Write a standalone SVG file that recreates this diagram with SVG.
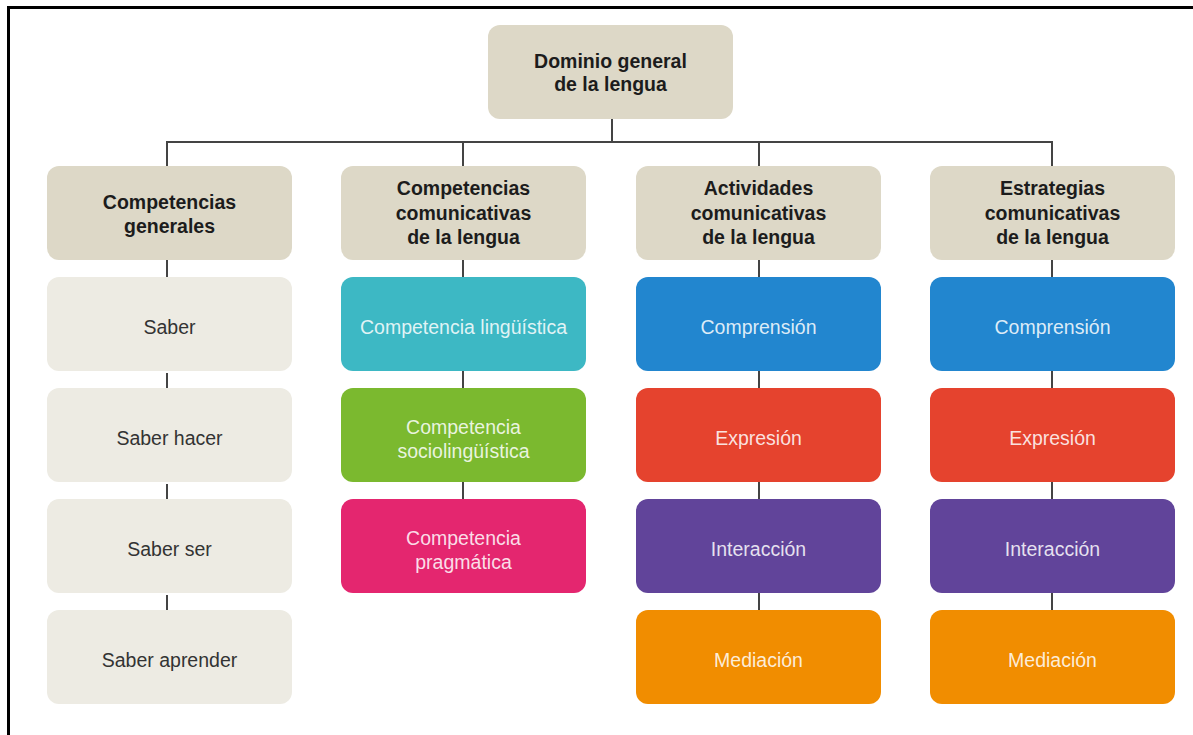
<svg xmlns="http://www.w3.org/2000/svg" width="1193" height="735" viewBox="0 0 1193 735">
<style>
text{font-family:"Liberation Sans",Arial,sans-serif;text-anchor:middle}
.h{font-weight:bold;font-size:19.5px;fill:#1c1c1c}
.l{font-size:19.5px;fill:#333}
.c{font-size:19.5px;fill:#fff;fill-opacity:0.85}
.hb{fill:#ddd8c7}
.lb{fill:#edebe3}
.ln{stroke:#444;stroke-width:2;fill:none}
</style>
<rect width="1193" height="735" fill="#fff"/>
<path d="M7 7.5H1193M8.5 6V735" stroke="#000" stroke-width="3" fill="none"/>
<g id="connectors" class="ln">
<path d="M612 119V142M167 166V142H1052V166M463 142V166M759 142V166"/>
<path d="M167 260V277M167 373V388M167 484V499M167 595V610"/>
<path d="M463 260V277M463 371V388M463 482V499"/>
<path d="M759 260V277M759 371V388M759 482V499M759 593V610"/>
<path d="M1052 260V277M1052 371V388M1052 482V499M1052 593V610"/>
</g>
<g id="root"><rect class="hb" x="488" y="25" width="245" height="94" rx="12"/><text class="h" x="610.5" y="68">Dominio general</text><text class="h" x="610.5" y="91">de la lengua</text></g>
<g id="h1"><rect class="hb" x="47" y="166" width="245" height="94" rx="12"/><text class="h" x="169.5" y="209">Competencias</text><text class="h" x="169.5" y="233">generales</text></g>
<g id="h2"><rect class="hb" x="341" y="166" width="245" height="94" rx="12"/><text class="h" x="463.5" y="195">Competencias</text><text class="h" x="463.5" y="219.5">comunicativas</text><text class="h" x="463.5" y="244">de la lengua</text></g>
<g id="h3"><rect class="hb" x="636" y="166" width="245" height="94" rx="12"/><text class="h" x="758.5" y="195">Actividades</text><text class="h" x="758.5" y="219.5">comunicativas</text><text class="h" x="758.5" y="244">de la lengua</text></g>
<g id="h4"><rect class="hb" x="930" y="166" width="245" height="94" rx="12"/><text class="h" x="1052.5" y="195">Estrategias</text><text class="h" x="1052.5" y="219.5">comunicativas</text><text class="h" x="1052.5" y="244">de la lengua</text></g>

<g id="saber"><rect class="lb" x="47" y="277" width="245" height="94" rx="12"/><text class="l" x="169.5" y="334">Saber</text></g>
<g id="saber-hacer"><rect class="lb" x="47" y="388" width="245" height="94" rx="12"/><text class="l" x="169.5" y="445">Saber hacer</text></g>
<g id="saber-ser"><rect class="lb" x="47" y="499" width="245" height="94" rx="12"/><text class="l" x="169.5" y="556">Saber ser</text></g>
<g id="saber-aprender"><rect class="lb" x="47" y="610" width="245" height="94" rx="12"/><text class="l" x="169.5" y="667">Saber aprender</text></g>

<g id="comp-ling"><rect fill="#3db8c4" x="341" y="277" width="245" height="94" rx="12"/><text class="c" x="463.5" y="334">Competencia lingüística</text></g>
<g id="comp-socio"><rect fill="#7bb92f" x="341" y="388" width="245" height="94" rx="12"/><text class="c" x="463.5" y="434">Competencia</text><text class="c" x="463.5" y="458">sociolingüística</text></g>
<g id="comp-prag"><rect fill="#e4266f" x="341" y="499" width="245" height="94" rx="12"/><text class="c" x="463.5" y="545">Competencia</text><text class="c" x="463.5" y="569">pragmática</text></g>

<g id="act-comp"><rect fill="#2286cf" x="636" y="277" width="245" height="94" rx="12"/><text class="c" x="758.5" y="334">Comprensión</text></g>
<g id="act-expr"><rect fill="#e5432e" x="636" y="388" width="245" height="94" rx="12"/><text class="c" x="758.5" y="445">Expresión</text></g>
<g id="act-inter"><rect fill="#61449a" x="636" y="499" width="245" height="94" rx="12"/><text class="c" x="758.5" y="556">Interacción</text></g>
<g id="act-med"><rect fill="#f18d00" x="636" y="610" width="245" height="94" rx="12"/><text class="c" x="758.5" y="667">Mediación</text></g>

<g id="est-comp"><rect fill="#2286cf" x="930" y="277" width="245" height="94" rx="12"/><text class="c" x="1052.5" y="334">Comprensión</text></g>
<g id="est-expr"><rect fill="#e5432e" x="930" y="388" width="245" height="94" rx="12"/><text class="c" x="1052.5" y="445">Expresión</text></g>
<g id="est-inter"><rect fill="#61449a" x="930" y="499" width="245" height="94" rx="12"/><text class="c" x="1052.5" y="556">Interacción</text></g>
<g id="est-med"><rect fill="#f18d00" x="930" y="610" width="245" height="94" rx="12"/><text class="c" x="1052.5" y="667">Mediación</text></g>
</svg>
